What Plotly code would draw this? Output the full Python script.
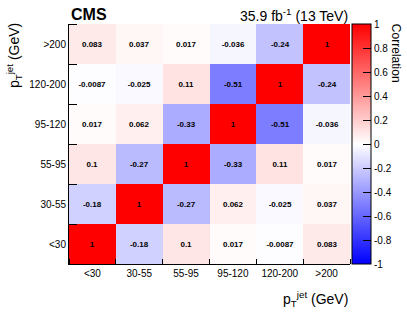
import plotly.graph_objects as go

bins = ["<30", "30-55", "55-95", "95-120", "120-200", ">200"]
row_lt30 = [1, -0.18, 0.1, 0.017, -0.0087, 0.083]
row_30_55 = [-0.18, 1, -0.27, 0.062, -0.025, 0.037]
row_55_95 = [0.1, -0.27, 1, -0.33, 0.11, 0.017]
row_95_120 = [0.017, 0.062, -0.33, 1, -0.51, -0.036]
row_120_200 = [-0.0087, -0.025, 0.11, -0.51, 1, -0.24]
row_gt200 = [0.083, 0.037, 0.017, -0.036, -0.24, 1]
z = [row_lt30, row_30_55, row_55_95, row_95_120, row_120_200, row_gt200]
cb_ticks = [-1, -0.8, -0.6, -0.4, -0.2, 0, 0.2, 0.4, 0.6, 0.8, 1]

text = [["%g" % v for v in r] for r in z]
idx = list(range(len(bins)))
edges = [i - 0.5 for i in range(len(bins) + 1)]

FONT = "Liberation Sans, Arial, sans-serif"

fig = go.Figure(go.Heatmap(
    z=z, x=idx, y=idx, text=text, texttemplate="%{text}",
    textfont=dict(family=FONT, size=8, color="black", weight="bold"),
    zmin=-1, zmax=1,
    colorscale=[[0, "rgb(0,0,255)"], [0.5, "rgb(255,255,255)"], [1, "rgb(255,0,0)"]],
    colorbar=dict(
        x=1.007, xanchor="left", xpad=0, y=0.5, yanchor="middle", ypad=0,
        len=1, lenmode="fraction", thickness=19,
        outlinewidth=1, outlinecolor="black",
        tickvals=cb_ticks, ticktext=["%g" % t for t in cb_ticks],
        ticks="inside", ticklen=8, tickcolor="black", tickwidth=1,
        tickfont=dict(family=FONT, size=10, color="black"),
    ),
    hoverinfo="skip",
))

fig.update_xaxes(
    range=[-0.5, 5.5], tickvals=idx, ticktext=bins, ticks="",
    showline=True, linecolor="black", linewidth=1, showgrid=False, zeroline=False,
    tickfont=dict(family=FONT, size=10, color="black"),
    minor=dict(tickvals=edges, ticks="inside", ticklen=5, tickcolor="black", showgrid=False),
)
fig.update_yaxes(
    range=[-0.5, 5.5], tickvals=idx, ticktext=bins, ticks="",
    showline=True, linecolor="black", linewidth=1, showgrid=False, zeroline=False,
    tickfont=dict(family=FONT, size=10, color="black"),
    minor=dict(tickvals=edges, ticks="inside", ticklen=8, tickcolor="black", showgrid=False),
)

fig.update_layout(
    width=407, height=315,
    margin=dict(l=69, r=57, t=24, b=51, autoexpand=False),
    paper_bgcolor="white", plot_bgcolor="white",
    font=dict(family=FONT, color="black"),
    annotations=[
        dict(text="<b>CMS</b>", x=0, y=0.997, xref="paper", yref="paper",
             xanchor="left", yanchor="bottom", showarrow=False,
             font=dict(size=16, family=FONT)),
        dict(text="35.9 fb<sup>-1</sup> (13 TeV)", x=1, y=0.99, xref="paper", yref="paper",
             xanchor="right", yanchor="bottom", showarrow=False,
             font=dict(size=14, family=FONT)),
        dict(text="Correlation", x=1.166, y=0.877, xref="paper", yref="paper",
             xanchor="center", yanchor="middle", showarrow=False, textangle=90,
             font=dict(size=12, family=FONT)),
        dict(text="p<sub>T</sub><sup>jet</sup> (GeV)", x=-0.196, y=0.87, xref="paper", yref="paper",
             xanchor="center", yanchor="middle", showarrow=False, textangle=-90,
             font=dict(size=14, family=FONT)),
        dict(text="p<sub>T</sub><sup>jet</sup> (GeV)", x=1.0, y=-0.095, xref="paper", yref="paper",
             xanchor="right", yanchor="top", showarrow=False,
             font=dict(size=14, family=FONT)),
    ],
)

fig.write_html("out.html", config={"displayModeBar": False},
               post_script="document.body.style.margin='0';")
